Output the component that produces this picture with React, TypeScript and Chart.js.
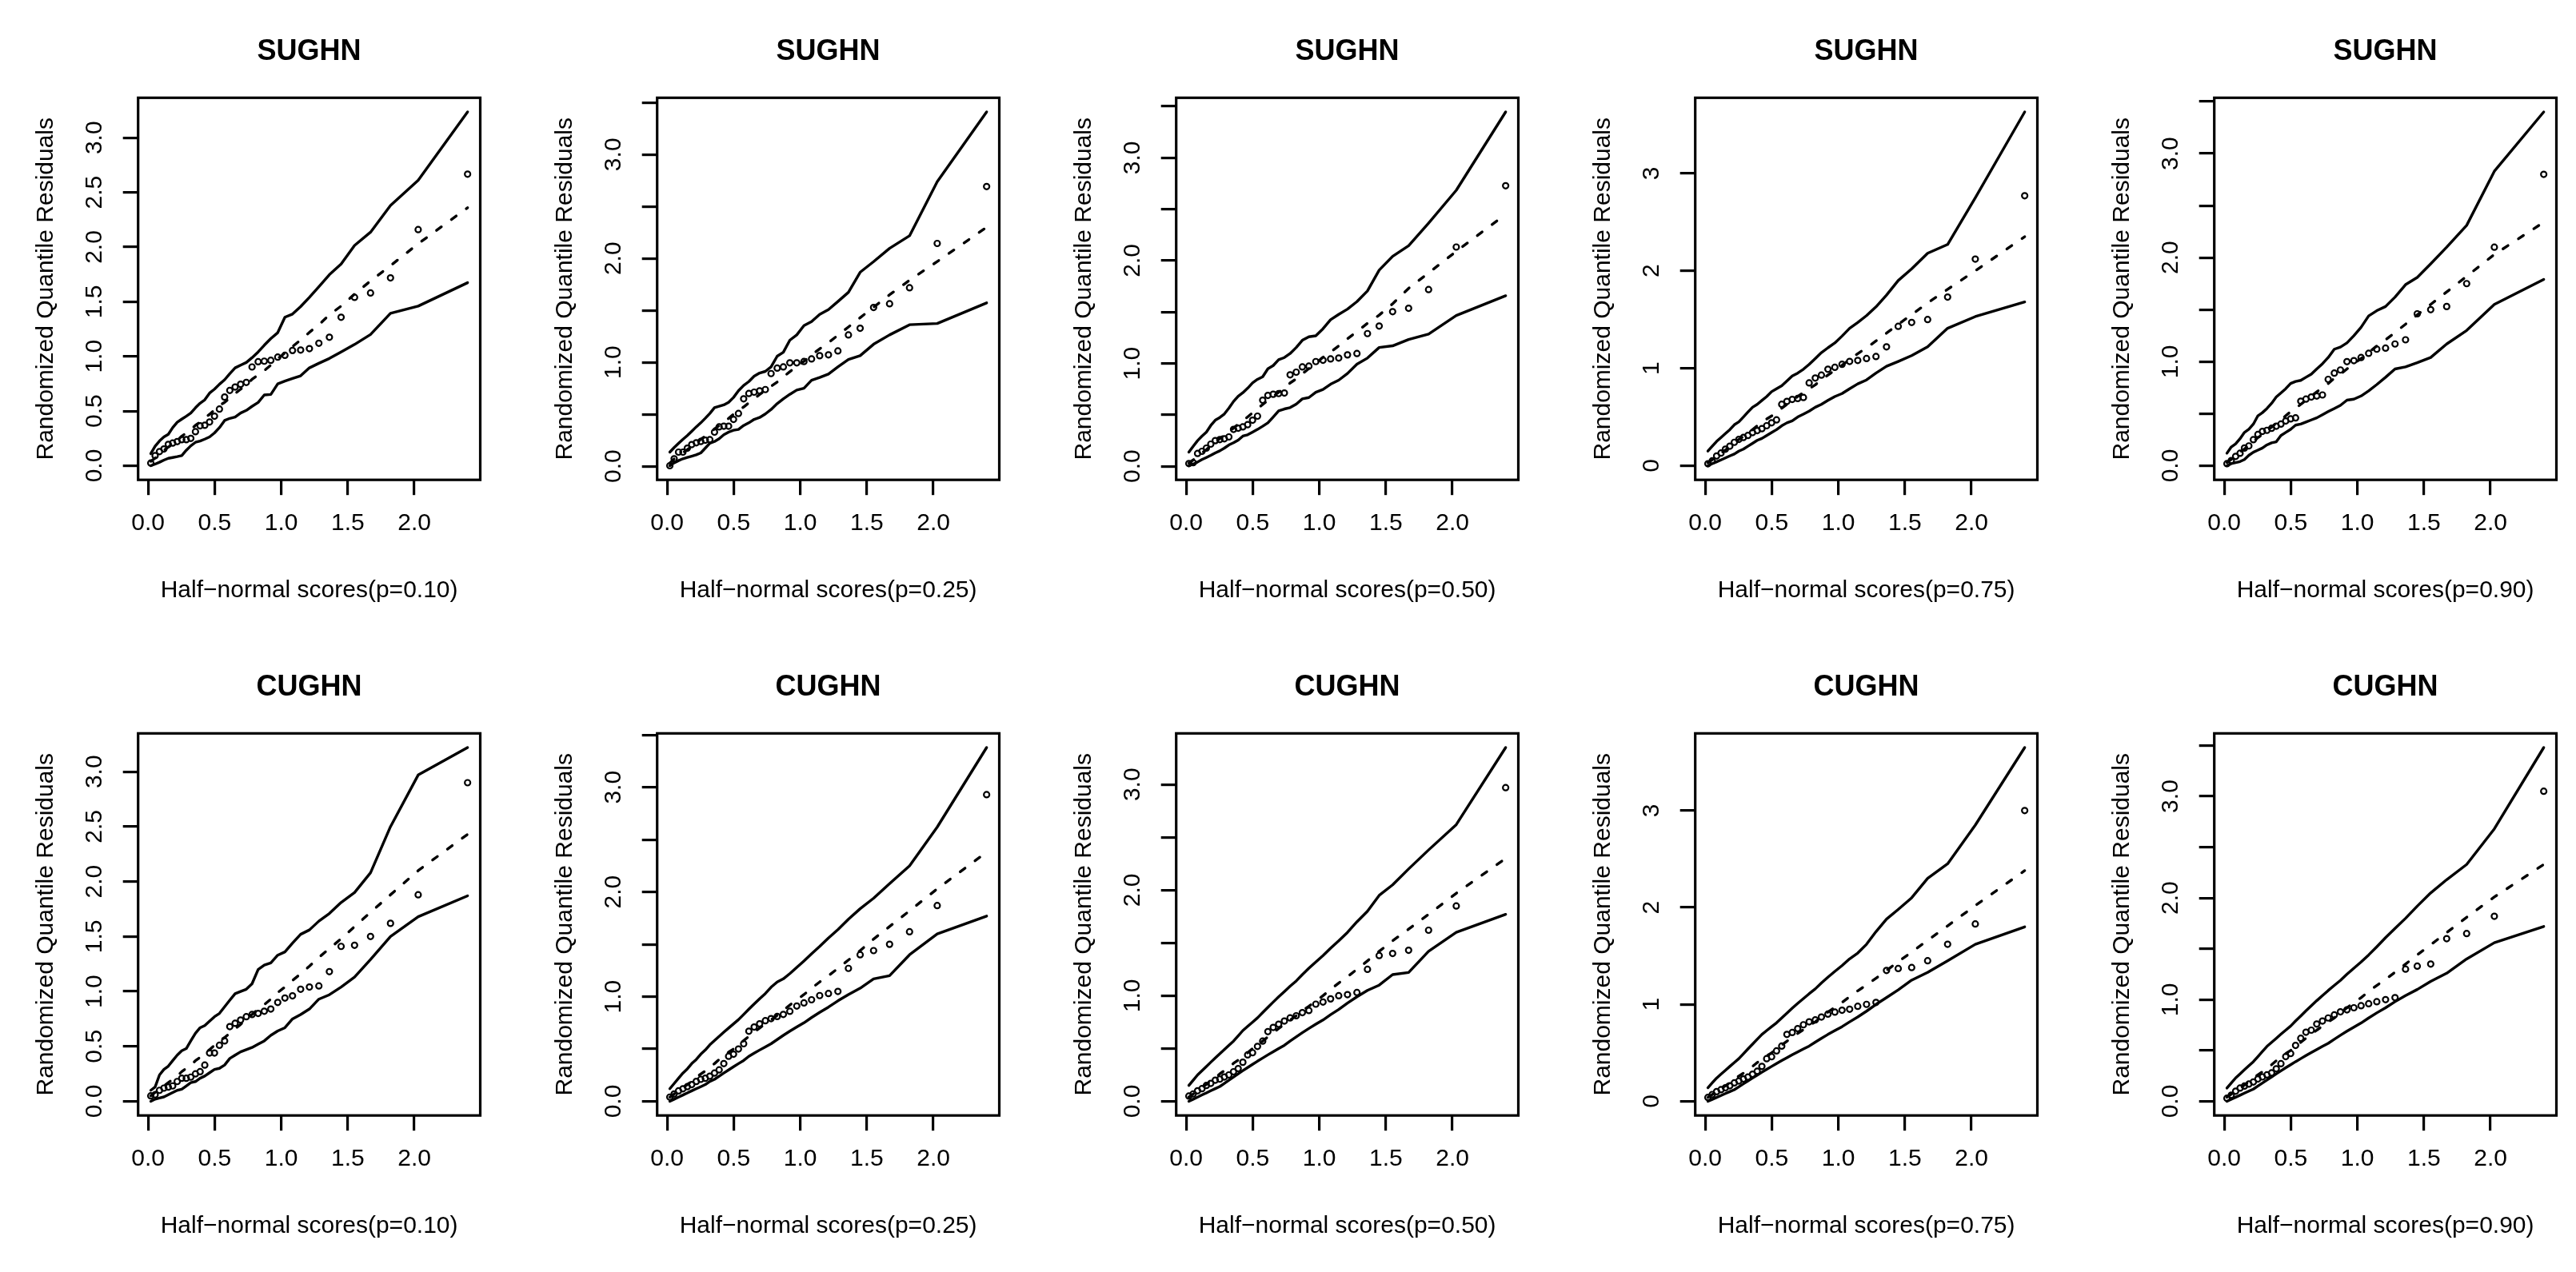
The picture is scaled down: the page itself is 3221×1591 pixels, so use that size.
import React, { useEffect, useRef } from 'react';
import { Chart, registerables } from 'chart.js';

Chart.register(...registerables);

const FONT = '"Liberation Sans", Arial, Helvetica, sans-serif';

// Half-normal scores (x positions shared by every panel)
const halfNormalScores = [0.0205, 0.053, 0.086, 0.119, 0.152, 0.185, 0.219, 0.253, 0.287, 0.321, 0.356, 0.391, 0.426, 0.462, 0.499, 0.536, 0.575, 0.614, 0.654, 0.695, 0.738, 0.781, 0.827, 0.873, 0.922, 0.974, 1.028, 1.085, 1.146, 1.212, 1.283, 1.362, 1.45, 1.551, 1.671, 1.821, 2.029, 2.4];

const xTickValues = [0, 0.5, 1, 1.5, 2];
const xTickLabels = ['0.0', '0.5', '1.0', '1.5', '2.0'];
const yTickValuesHalf = [0, 0.5, 1, 1.5, 2, 2.5, 3, 3.5];
const yTickLabelsHalfAll = ['0.0', '0.5', '1.0', '1.5', '2.0', '2.5', '3.0', '3.5'];
const yTickLabelsHalfSparse = ['0.0', '', '1.0', '', '2.0', '', '3.0', ''];
const yTickValuesInt = [0, 1, 2, 3];
const yTickLabelsInt = ['0', '1', '2', '3'];

const panelTitles = ['SUGHN', 'SUGHN', 'SUGHN', 'SUGHN', 'SUGHN', 'CUGHN', 'CUGHN', 'CUGHN', 'CUGHN', 'CUGHN'];
const panelPValues = ['0.10', '0.25', '0.50', '0.75', '0.90', '0.10', '0.25', '0.50', '0.75', '0.90'];

// SUGHN p=0.10
const sughn10Residuals = [0.024, 0.092, 0.129, 0.153, 0.195, 0.207, 0.221, 0.238, 0.238, 0.25, 0.311, 0.365, 0.37, 0.4, 0.453, 0.518, 0.628, 0.689, 0.72, 0.745, 0.762, 0.903, 0.951, 0.956, 0.964, 0.993, 1.01, 1.054, 1.058, 1.071, 1.12, 1.175, 1.358, 1.54, 1.58, 1.718, 2.16, 2.667];
const sughn10Upper = [0.11, 0.178, 0.226, 0.263, 0.287, 0.348, 0.397, 0.426, 0.453, 0.482, 0.53, 0.572, 0.603, 0.664, 0.7, 0.745, 0.786, 0.842, 0.895, 0.92, 0.944, 0.988, 1.041, 1.102, 1.163, 1.217, 1.358, 1.387, 1.455, 1.54, 1.637, 1.747, 1.844, 2.015, 2.136, 2.38, 2.61, 3.236];
const sughn10Lower = [0.0, 0.015, 0.032, 0.051, 0.068, 0.075, 0.083, 0.092, 0.141, 0.182, 0.214, 0.226, 0.243, 0.263, 0.3, 0.348, 0.414, 0.433, 0.445, 0.482, 0.506, 0.543, 0.579, 0.647, 0.652, 0.749, 0.774, 0.798, 0.822, 0.895, 0.937, 0.981, 1.041, 1.109, 1.2, 1.394, 1.46, 1.674];
const sughn10Mean = [0.04, 0.07, 0.1, 0.14, 0.17, 0.2, 0.23, 0.27, 0.3, 0.33, 0.37, 0.4, 0.44, 0.47, 0.51, 0.55, 0.58, 0.62, 0.66, 0.7, 0.74, 0.79, 0.83, 0.87, 0.92, 0.98, 1.03, 1.09, 1.15, 1.22, 1.29, 1.38, 1.46, 1.57, 1.69, 1.83, 2.03, 2.36];

// SUGHN p=0.25
const sughn25Residuals = [0.005, 0.072, 0.136, 0.136, 0.174, 0.208, 0.226, 0.238, 0.251, 0.256, 0.328, 0.379, 0.385, 0.385, 0.451, 0.508, 0.649, 0.7, 0.713, 0.726, 0.738, 0.892, 0.944, 0.956, 0.995, 0.995, 1.008, 1.033, 1.064, 1.072, 1.11, 1.264, 1.328, 1.528, 1.564, 1.718, 2.144, 2.692];
const sughn25Upper = [0.136, 0.18, 0.22, 0.259, 0.295, 0.336, 0.379, 0.418, 0.462, 0.508, 0.564, 0.577, 0.59, 0.615, 0.662, 0.726, 0.777, 0.815, 0.867, 0.897, 0.913, 0.956, 1.059, 1.097, 1.213, 1.264, 1.354, 1.392, 1.462, 1.508, 1.585, 1.674, 1.867, 1.969, 2.097, 2.218, 2.738, 3.41];
const sughn25Lower = [0.005, 0.033, 0.054, 0.072, 0.085, 0.097, 0.11, 0.128, 0.174, 0.221, 0.238, 0.264, 0.303, 0.328, 0.346, 0.354, 0.392, 0.418, 0.451, 0.469, 0.503, 0.546, 0.603, 0.649, 0.692, 0.733, 0.751, 0.828, 0.854, 0.887, 0.956, 1.028, 1.064, 1.174, 1.264, 1.362, 1.374, 1.572];
const sughn25Mean = [0.03, 0.07, 0.1, 0.13, 0.16, 0.19, 0.22, 0.26, 0.29, 0.32, 0.36, 0.39, 0.43, 0.46, 0.5, 0.54, 0.57, 0.61, 0.65, 0.69, 0.73, 0.77, 0.81, 0.86, 0.91, 0.96, 1.01, 1.07, 1.13, 1.19, 1.26, 1.34, 1.43, 1.53, 1.65, 1.79, 1.97, 2.3];

// SUGHN p=0.50
const sughn50Residuals = [0.026, 0.034, 0.124, 0.145, 0.176, 0.215, 0.249, 0.259, 0.267, 0.285, 0.358, 0.37, 0.383, 0.404, 0.448, 0.487, 0.642, 0.689, 0.7, 0.707, 0.712, 0.889, 0.915, 0.966, 0.974, 1.018, 1.031, 1.044, 1.052, 1.083, 1.096, 1.29, 1.363, 1.503, 1.536, 1.718, 2.132, 2.728];
const sughn50Upper = [0.137, 0.194, 0.249, 0.293, 0.332, 0.396, 0.448, 0.474, 0.508, 0.565, 0.63, 0.681, 0.715, 0.759, 0.811, 0.845, 0.87, 0.948, 0.979, 1.036, 1.057, 1.096, 1.155, 1.225, 1.259, 1.269, 1.337, 1.425, 1.477, 1.528, 1.601, 1.705, 1.907, 2.041, 2.145, 2.365, 2.684, 3.446];
const sughn50Lower = [0.005, 0.021, 0.041, 0.065, 0.085, 0.106, 0.13, 0.15, 0.176, 0.207, 0.228, 0.254, 0.293, 0.306, 0.332, 0.358, 0.389, 0.422, 0.479, 0.539, 0.557, 0.57, 0.604, 0.655, 0.668, 0.72, 0.746, 0.798, 0.837, 0.902, 0.992, 1.052, 1.155, 1.171, 1.233, 1.285, 1.466, 1.658];
const sughn50Mean = [0.03, 0.06, 0.1, 0.13, 0.16, 0.2, 0.23, 0.27, 0.3, 0.34, 0.37, 0.41, 0.44, 0.48, 0.52, 0.56, 0.6, 0.64, 0.68, 0.72, 0.76, 0.81, 0.85, 0.9, 0.95, 1.0, 1.06, 1.11, 1.17, 1.24, 1.31, 1.39, 1.47, 1.58, 1.73, 1.88, 2.09, 2.45];

// SUGHN p=0.75
const sughn75Residuals = [0.02, 0.05, 0.1, 0.13, 0.17, 0.2, 0.24, 0.27, 0.29, 0.31, 0.34, 0.36, 0.38, 0.41, 0.44, 0.47, 0.63, 0.66, 0.68, 0.69, 0.7, 0.85, 0.9, 0.93, 0.99, 1.01, 1.04, 1.07, 1.08, 1.1, 1.12, 1.22, 1.43, 1.47, 1.5, 1.73, 2.12, 2.77];
const sughn75Upper = [0.15, 0.2, 0.25, 0.29, 0.33, 0.37, 0.42, 0.45, 0.5, 0.55, 0.6, 0.63, 0.67, 0.71, 0.76, 0.79, 0.82, 0.87, 0.92, 0.95, 0.99, 1.04, 1.1, 1.16, 1.21, 1.26, 1.33, 1.41, 1.47, 1.54, 1.63, 1.75, 1.9, 2.02, 2.18, 2.27, 2.75, 3.63];
const sughn75Lower = [0.0, 0.02, 0.04, 0.06, 0.08, 0.1, 0.12, 0.15, 0.17, 0.2, 0.23, 0.26, 0.28, 0.31, 0.34, 0.37, 0.41, 0.44, 0.46, 0.5, 0.53, 0.56, 0.6, 0.63, 0.67, 0.71, 0.74, 0.79, 0.84, 0.88, 0.95, 1.02, 1.07, 1.13, 1.22, 1.41, 1.53, 1.68];
const sughn75Mean = [0.03, 0.06, 0.1, 0.13, 0.16, 0.2, 0.23, 0.27, 0.3, 0.34, 0.37, 0.41, 0.44, 0.48, 0.51, 0.55, 0.59, 0.63, 0.67, 0.71, 0.75, 0.79, 0.83, 0.88, 0.93, 0.98, 1.03, 1.09, 1.15, 1.21, 1.28, 1.36, 1.45, 1.55, 1.67, 1.81, 2.0, 2.35];

// SUGHN p=0.90
const sughn90Residuals = [0.02, 0.05, 0.09, 0.12, 0.17, 0.19, 0.25, 0.3, 0.33, 0.34, 0.36, 0.38, 0.4, 0.43, 0.45, 0.46, 0.62, 0.64, 0.66, 0.67, 0.68, 0.83, 0.89, 0.92, 1.0, 1.01, 1.04, 1.08, 1.12, 1.13, 1.17, 1.21, 1.46, 1.5, 1.53, 1.75, 2.1, 2.8];
const sughn90Upper = [0.12, 0.18, 0.21, 0.26, 0.32, 0.35, 0.4, 0.48, 0.51, 0.55, 0.6, 0.66, 0.7, 0.74, 0.79, 0.81, 0.82, 0.85, 0.88, 0.93, 0.98, 1.04, 1.12, 1.14, 1.18, 1.25, 1.33, 1.44, 1.49, 1.53, 1.62, 1.74, 1.81, 1.94, 2.1, 2.31, 2.83, 3.4];
const sughn90Lower = [0.0, 0.02, 0.03, 0.04, 0.06, 0.1, 0.13, 0.15, 0.17, 0.2, 0.22, 0.23, 0.29, 0.32, 0.35, 0.39, 0.4, 0.42, 0.44, 0.46, 0.49, 0.52, 0.55, 0.58, 0.63, 0.64, 0.67, 0.72, 0.78, 0.85, 0.93, 0.95, 0.99, 1.04, 1.17, 1.3, 1.55, 1.79];
const sughn90Mean = [0.03, 0.06, 0.1, 0.13, 0.16, 0.2, 0.23, 0.27, 0.3, 0.34, 0.37, 0.41, 0.44, 0.48, 0.52, 0.55, 0.59, 0.63, 0.67, 0.71, 0.75, 0.79, 0.84, 0.88, 0.93, 0.98, 1.03, 1.09, 1.15, 1.21, 1.28, 1.36, 1.45, 1.55, 1.67, 1.82, 2.03, 2.34];

// CUGHN p=0.10
const cughn10Residuals = [0.05, 0.06, 0.1, 0.12, 0.13, 0.14, 0.18, 0.21, 0.21, 0.22, 0.25, 0.27, 0.33, 0.44, 0.44, 0.51, 0.55, 0.68, 0.71, 0.74, 0.77, 0.79, 0.8, 0.82, 0.84, 0.9, 0.94, 0.96, 1.02, 1.04, 1.05, 1.18, 1.41, 1.42, 1.5, 1.62, 1.88, 2.9];
const cughn10Upper = [0.1, 0.13, 0.24, 0.29, 0.32, 0.37, 0.42, 0.46, 0.48, 0.55, 0.62, 0.67, 0.69, 0.73, 0.77, 0.8, 0.86, 0.92, 0.98, 1.0, 1.02, 1.07, 1.2, 1.24, 1.26, 1.33, 1.36, 1.44, 1.52, 1.56, 1.64, 1.71, 1.81, 1.9, 2.08, 2.5, 2.97, 3.22];
const cughn10Lower = [0.0, 0.02, 0.03, 0.04, 0.06, 0.08, 0.1, 0.11, 0.14, 0.17, 0.18, 0.21, 0.23, 0.26, 0.29, 0.3, 0.33, 0.39, 0.42, 0.45, 0.47, 0.49, 0.52, 0.55, 0.6, 0.64, 0.67, 0.75, 0.79, 0.84, 0.93, 0.97, 1.04, 1.13, 1.29, 1.5, 1.68, 1.87];
const cughn10Mean = [0.05, 0.08, 0.11, 0.14, 0.17, 0.2, 0.23, 0.27, 0.3, 0.33, 0.37, 0.4, 0.44, 0.47, 0.51, 0.55, 0.58, 0.62, 0.66, 0.7, 0.75, 0.79, 0.84, 0.88, 0.93, 0.99, 1.04, 1.1, 1.16, 1.23, 1.31, 1.39, 1.48, 1.59, 1.72, 1.88, 2.1, 2.43];

// CUGHN p=0.25
const cughn25Residuals = [0.04, 0.07, 0.1, 0.12, 0.14, 0.16, 0.19, 0.21, 0.22, 0.24, 0.27, 0.3, 0.36, 0.43, 0.45, 0.5, 0.55, 0.67, 0.71, 0.74, 0.77, 0.79, 0.81, 0.83, 0.86, 0.91, 0.94, 0.97, 1.01, 1.03, 1.05, 1.27, 1.4, 1.44, 1.5, 1.62, 1.87, 2.93];
const cughn25Upper = [0.12, 0.17, 0.22, 0.27, 0.31, 0.36, 0.4, 0.45, 0.49, 0.54, 0.58, 0.62, 0.66, 0.7, 0.74, 0.78, 0.83, 0.88, 0.93, 0.98, 1.03, 1.09, 1.14, 1.17, 1.22, 1.28, 1.34, 1.41, 1.48, 1.56, 1.64, 1.74, 1.84, 1.94, 2.08, 2.25, 2.62, 3.38];
const cughn25Lower = [0.0, 0.02, 0.04, 0.06, 0.08, 0.1, 0.12, 0.14, 0.16, 0.19, 0.21, 0.24, 0.27, 0.3, 0.33, 0.36, 0.39, 0.43, 0.46, 0.49, 0.52, 0.55, 0.59, 0.63, 0.67, 0.71, 0.75, 0.8, 0.85, 0.9, 0.96, 1.02, 1.08, 1.17, 1.2, 1.4, 1.6, 1.77];
const cughn25Mean = [0.04, 0.07, 0.1, 0.13, 0.16, 0.19, 0.23, 0.26, 0.29, 0.33, 0.36, 0.4, 0.43, 0.47, 0.5, 0.54, 0.58, 0.62, 0.66, 0.7, 0.74, 0.78, 0.82, 0.87, 0.92, 0.97, 1.02, 1.08, 1.14, 1.2, 1.27, 1.35, 1.44, 1.55, 1.67, 1.82, 2.03, 2.38];

// CUGHN p=0.50
const cughn50Residuals = [0.05, 0.07, 0.1, 0.12, 0.15, 0.17, 0.2, 0.21, 0.23, 0.25, 0.28, 0.31, 0.37, 0.44, 0.46, 0.52, 0.57, 0.66, 0.7, 0.73, 0.76, 0.79, 0.81, 0.84, 0.86, 0.92, 0.94, 0.97, 1.0, 1.01, 1.03, 1.25, 1.38, 1.4, 1.43, 1.62, 1.85, 2.97];
const cughn50Upper = [0.15, 0.2, 0.25, 0.29, 0.33, 0.37, 0.41, 0.45, 0.49, 0.53, 0.57, 0.62, 0.67, 0.71, 0.75, 0.79, 0.84, 0.89, 0.94, 0.99, 1.04, 1.09, 1.14, 1.2, 1.26, 1.32, 1.38, 1.45, 1.52, 1.6, 1.7, 1.8, 1.95, 2.05, 2.2, 2.38, 2.62, 3.35];
const cughn50Lower = [0.0, 0.02, 0.04, 0.06, 0.08, 0.1, 0.12, 0.14, 0.17, 0.2, 0.23, 0.26, 0.29, 0.32, 0.35, 0.38, 0.41, 0.44, 0.47, 0.5, 0.53, 0.57, 0.61, 0.65, 0.69, 0.73, 0.77, 0.82, 0.87, 0.93, 0.99, 1.05, 1.1, 1.2, 1.22, 1.42, 1.6, 1.77];
const cughn50Mean = [0.04, 0.07, 0.1, 0.13, 0.16, 0.19, 0.22, 0.26, 0.29, 0.32, 0.36, 0.39, 0.43, 0.46, 0.5, 0.54, 0.57, 0.61, 0.65, 0.69, 0.73, 0.77, 0.81, 0.86, 0.9, 0.95, 1.0, 1.06, 1.12, 1.18, 1.25, 1.33, 1.42, 1.52, 1.63, 1.77, 1.97, 2.3];

// CUGHN p=0.75
const cughn75Residuals = [0.04, 0.07, 0.1, 0.12, 0.14, 0.16, 0.19, 0.21, 0.23, 0.25, 0.28, 0.31, 0.36, 0.44, 0.46, 0.52, 0.57, 0.69, 0.71, 0.75, 0.79, 0.82, 0.84, 0.87, 0.9, 0.92, 0.94, 0.95, 0.98, 1.0, 1.02, 1.35, 1.37, 1.38, 1.45, 1.62, 1.83, 3.0];
const cughn75Upper = [0.14, 0.19, 0.24, 0.28, 0.32, 0.36, 0.4, 0.44, 0.49, 0.54, 0.59, 0.64, 0.69, 0.73, 0.77, 0.81, 0.86, 0.91, 0.96, 1.01, 1.06, 1.11, 1.16, 1.22, 1.28, 1.34, 1.4, 1.47, 1.53, 1.62, 1.75, 1.88, 1.98, 2.1, 2.3, 2.45, 2.85, 3.65];
const cughn75Lower = [0.0, 0.02, 0.04, 0.06, 0.08, 0.1, 0.12, 0.15, 0.18, 0.21, 0.24, 0.27, 0.3, 0.33, 0.36, 0.39, 0.42, 0.45, 0.48, 0.51, 0.54, 0.57, 0.61, 0.65, 0.69, 0.73, 0.77, 0.82, 0.87, 0.93, 1.0, 1.07, 1.15, 1.25, 1.33, 1.45, 1.62, 1.8];
const cughn75Mean = [0.04, 0.07, 0.1, 0.13, 0.16, 0.19, 0.23, 0.26, 0.29, 0.33, 0.36, 0.4, 0.43, 0.47, 0.5, 0.54, 0.58, 0.62, 0.66, 0.7, 0.74, 0.78, 0.82, 0.87, 0.92, 0.97, 1.02, 1.08, 1.14, 1.2, 1.27, 1.35, 1.44, 1.54, 1.66, 1.81, 2.02, 2.38];

// CUGHN p=0.90
const cughn90Residuals = [0.03, 0.06, 0.1, 0.13, 0.15, 0.17, 0.19, 0.22, 0.24, 0.26, 0.28, 0.32, 0.37, 0.44, 0.47, 0.55, 0.62, 0.68, 0.7, 0.76, 0.79, 0.82, 0.85, 0.88, 0.9, 0.92, 0.94, 0.96, 0.98, 1.0, 1.02, 1.3, 1.33, 1.35, 1.6, 1.65, 1.82, 3.05];
const cughn90Upper = [0.13, 0.18, 0.23, 0.27, 0.31, 0.35, 0.39, 0.44, 0.49, 0.54, 0.58, 0.62, 0.66, 0.7, 0.74, 0.79, 0.84, 0.89, 0.94, 0.99, 1.04, 1.09, 1.14, 1.19, 1.25, 1.31, 1.37, 1.44, 1.52, 1.61, 1.7, 1.8, 1.92, 2.05, 2.18, 2.33, 2.68, 3.48];
const cughn90Lower = [0.0, 0.02, 0.04, 0.06, 0.08, 0.1, 0.12, 0.15, 0.18, 0.21, 0.24, 0.27, 0.3, 0.33, 0.36, 0.39, 0.42, 0.45, 0.48, 0.51, 0.54, 0.57, 0.61, 0.65, 0.69, 0.73, 0.77, 0.82, 0.87, 0.92, 0.98, 1.04, 1.1, 1.18, 1.26, 1.4, 1.56, 1.72];
const cughn90Mean = [0.04, 0.07, 0.1, 0.13, 0.16, 0.19, 0.23, 0.26, 0.29, 0.33, 0.36, 0.4, 0.43, 0.47, 0.5, 0.54, 0.58, 0.62, 0.66, 0.7, 0.74, 0.78, 0.82, 0.87, 0.92, 0.97, 1.02, 1.08, 1.14, 1.2, 1.27, 1.35, 1.44, 1.54, 1.66, 1.81, 2.01, 2.33];

type PanelSpec = {
  residuals: number[];
  upper: number[];
  lower: number[];
  mean: number[];
  yTicks: number[];
  yLabels: string[];
};

const panelSeries: PanelSpec[] = [
  { residuals: sughn10Residuals, upper: sughn10Upper, lower: sughn10Lower, mean: sughn10Mean, yTicks: yTickValuesHalf, yLabels: yTickLabelsHalfAll },
  { residuals: sughn25Residuals, upper: sughn25Upper, lower: sughn25Lower, mean: sughn25Mean, yTicks: yTickValuesHalf, yLabels: yTickLabelsHalfSparse },
  { residuals: sughn50Residuals, upper: sughn50Upper, lower: sughn50Lower, mean: sughn50Mean, yTicks: yTickValuesHalf, yLabels: yTickLabelsHalfSparse },
  { residuals: sughn75Residuals, upper: sughn75Upper, lower: sughn75Lower, mean: sughn75Mean, yTicks: yTickValuesInt, yLabels: yTickLabelsInt },
  { residuals: sughn90Residuals, upper: sughn90Upper, lower: sughn90Lower, mean: sughn90Mean, yTicks: yTickValuesHalf, yLabels: yTickLabelsHalfSparse },
  { residuals: cughn10Residuals, upper: cughn10Upper, lower: cughn10Lower, mean: cughn10Mean, yTicks: yTickValuesHalf, yLabels: yTickLabelsHalfAll },
  { residuals: cughn25Residuals, upper: cughn25Upper, lower: cughn25Lower, mean: cughn25Mean, yTicks: yTickValuesHalf, yLabels: yTickLabelsHalfSparse },
  { residuals: cughn50Residuals, upper: cughn50Upper, lower: cughn50Lower, mean: cughn50Mean, yTicks: yTickValuesHalf, yLabels: yTickLabelsHalfSparse },
  { residuals: cughn75Residuals, upper: cughn75Upper, lower: cughn75Lower, mean: cughn75Mean, yTicks: yTickValuesInt, yLabels: yTickLabelsInt },
  { residuals: cughn90Residuals, upper: cughn90Upper, lower: cughn90Lower, mean: cughn90Mean, yTicks: yTickValuesHalf, yLabels: yTickLabelsHalfSparse },
];

// Layout (pixels)
const CELL_W = 649;
const CELL_H = 795;
const AREA_LEFT = 172.7;
const AREA_TOP = 122.3;
const AREA_RIGHT = 600.5;
const AREA_BOTTOM = 600.2;
const TICK_LEN = 19;
const Y_LABEL_CENTER = 119;
const TITLE_CENTER = 65.5;

const boxPlugin = {
  id: 'plotBox',
  afterDraw(chart: any) {
    const { left, top, right, bottom } = chart.chartArea;
    const c = chart.ctx;
    c.save();
    c.lineWidth = 3.2;
    c.strokeStyle = '#000';
    c.strokeRect(left, top, right - left, bottom - top);
    c.restore();
  },
};

function Panel({ index }: { index: number }) {
  const ref = useRef<HTMLCanvasElement>(null);
  useEffect(() => {
    const canvas = ref.current!;
    const spec = panelSeries[index];
    const toPts = (ys: number[]) => ys.map((y, i) => ({ x: halfNormalScores[i], y }));

    const allY = [...spec.residuals, ...spec.upper, ...spec.lower, ...spec.mean];
    const yLo = Math.min(...allY);
    const yHi = Math.max(...allY);
    const yExt = (yHi - yLo) * 0.04;
    const yMin = yLo - yExt;
    const yMax = yHi + yExt;
    const xLo = Math.min(...halfNormalScores);
    const xHi = Math.max(...halfNormalScores);
    const xExt = (xHi - xLo) * 0.04;

    const yPairs = spec.yTicks
      .map((v, i) => ({ value: v, label: spec.yLabels[i] }))
      .filter((t) => t.value >= yMin && t.value <= yMax);

    const m = canvas.getContext('2d')!;
    m.font = `30px ${FONT}`;
    const widest = Math.max(...yPairs.map((t) => m.measureText(t.label).width));
    const yPad = AREA_LEFT - TICK_LEN - Y_LABEL_CENTER - widest / 2;

    const tickFont = { family: FONT, size: 30, lineHeight: 1.2 };
    const grid = { drawOnChartArea: false, drawTicks: true, tickLength: TICK_LEN, lineWidth: 3.2, color: '#000' };

    const lineDs = (ys: number[], dash: number[]) => ({
      data: toPts(ys),
      showLine: true,
      pointRadius: 0,
      borderWidth: 3.4,
      borderColor: '#000',
      borderDash: dash,
      borderCapStyle: 'round' as const,
      borderJoinStyle: 'round' as const,
      tension: 0,
      fill: false,
    });

    const chart = new Chart(canvas, {
      type: 'scatter',
      data: {
        datasets: [
          {
            data: toPts(spec.residuals),
            showLine: false,
            pointStyle: 'circle',
            pointRadius: 3.5,
            pointBorderWidth: 2.2,
            pointBorderColor: '#000',
            pointBackgroundColor: 'rgba(0,0,0,0)',
          } as any,
          lineDs(spec.upper, []),
          lineDs(spec.lower, []),
          lineDs(spec.mean, [7.5, 15.5]),
        ],
      },
      options: {
        animation: false,
        responsive: false,
        devicePixelRatio: 1,
        events: [],
        layout: { padding: { left: 0, top: 0, right: CELL_W - AREA_RIGHT, bottom: 0 } },
        plugins: {
          legend: { display: false },
          tooltip: { enabled: false },
          title: {
            display: true,
            text: panelTitles[index],
            fullSize: false,
            color: '#000',
            font: { family: FONT, size: 36, weight: 'bold', lineHeight: 1 },
            padding: { top: TITLE_CENTER - 18, bottom: AREA_TOP - (TITLE_CENTER - 18) - 36 },
          },
        },
        scales: {
          x: {
            type: 'linear',
            min: xLo - xExt,
            max: xHi + xExt,
            afterBuildTicks: (s: any) => {
              s.ticks = xTickValues.map((v) => ({ value: v }));
            },
            afterFit: (s: any) => {
              s.height = CELL_H - AREA_BOTTOM;
            },
            ticks: {
              callback: (_v: any, i: number) => xTickLabels[i],
              font: tickFont,
              color: '#000',
              padding: 17.6,
              minRotation: 0,
              maxRotation: 0,
              autoSkip: false,
            },
            grid,
            border: { display: false },
            title: {
              display: true,
              text: `Half\u2212normal scores(p=${panelPValues[index]})`,
              color: '#000',
              font: tickFont,
              padding: { top: 0, bottom: 38.4 },
            },
          },
          y: {
            type: 'linear',
            min: yMin,
            max: yMax,
            afterBuildTicks: (s: any) => {
              s.ticks = yPairs.map((t) => ({ value: t.value }));
            },
            afterFit: (s: any) => {
              s.width = AREA_LEFT;
            },
            ticks: {
              callback: (_v: any, i: number) => yPairs[i].label,
              font: tickFont,
              color: '#000',
              padding: yPad,
              minRotation: 90,
              maxRotation: 90,
              crossAlign: 'center',
              autoSkip: false,
            },
            grid,
            border: { display: false },
            title: {
              display: true,
              text: 'Randomized Quantile Residuals',
              color: '#000',
              font: tickFont,
              padding: { top: 40, bottom: 0 },
            },
          },
        },
      } as any,
      plugins: [boxPlugin],
    });
    return () => chart.destroy();
  }, [index]);

  const col = index % 5;
  const row = Math.floor(index / 5);
  return (
    <canvas
      ref={ref}
      width={CELL_W}
      height={CELL_H}
      style={{ position: 'absolute', left: col * CELL_W, top: row * CELL_H, width: CELL_W, height: CELL_H }}
    />
  );
}

export default function App() {
  return (
    <div
      style={{
        position: 'fixed',
        left: 0,
        top: 0,
        width: 3221,
        height: 1591,
        overflow: 'hidden',
        background: '#fff',
      }}
    >
      {panelSeries.map((_, i) => (
        <Panel key={i} index={i} />
      ))}
    </div>
  );
}
